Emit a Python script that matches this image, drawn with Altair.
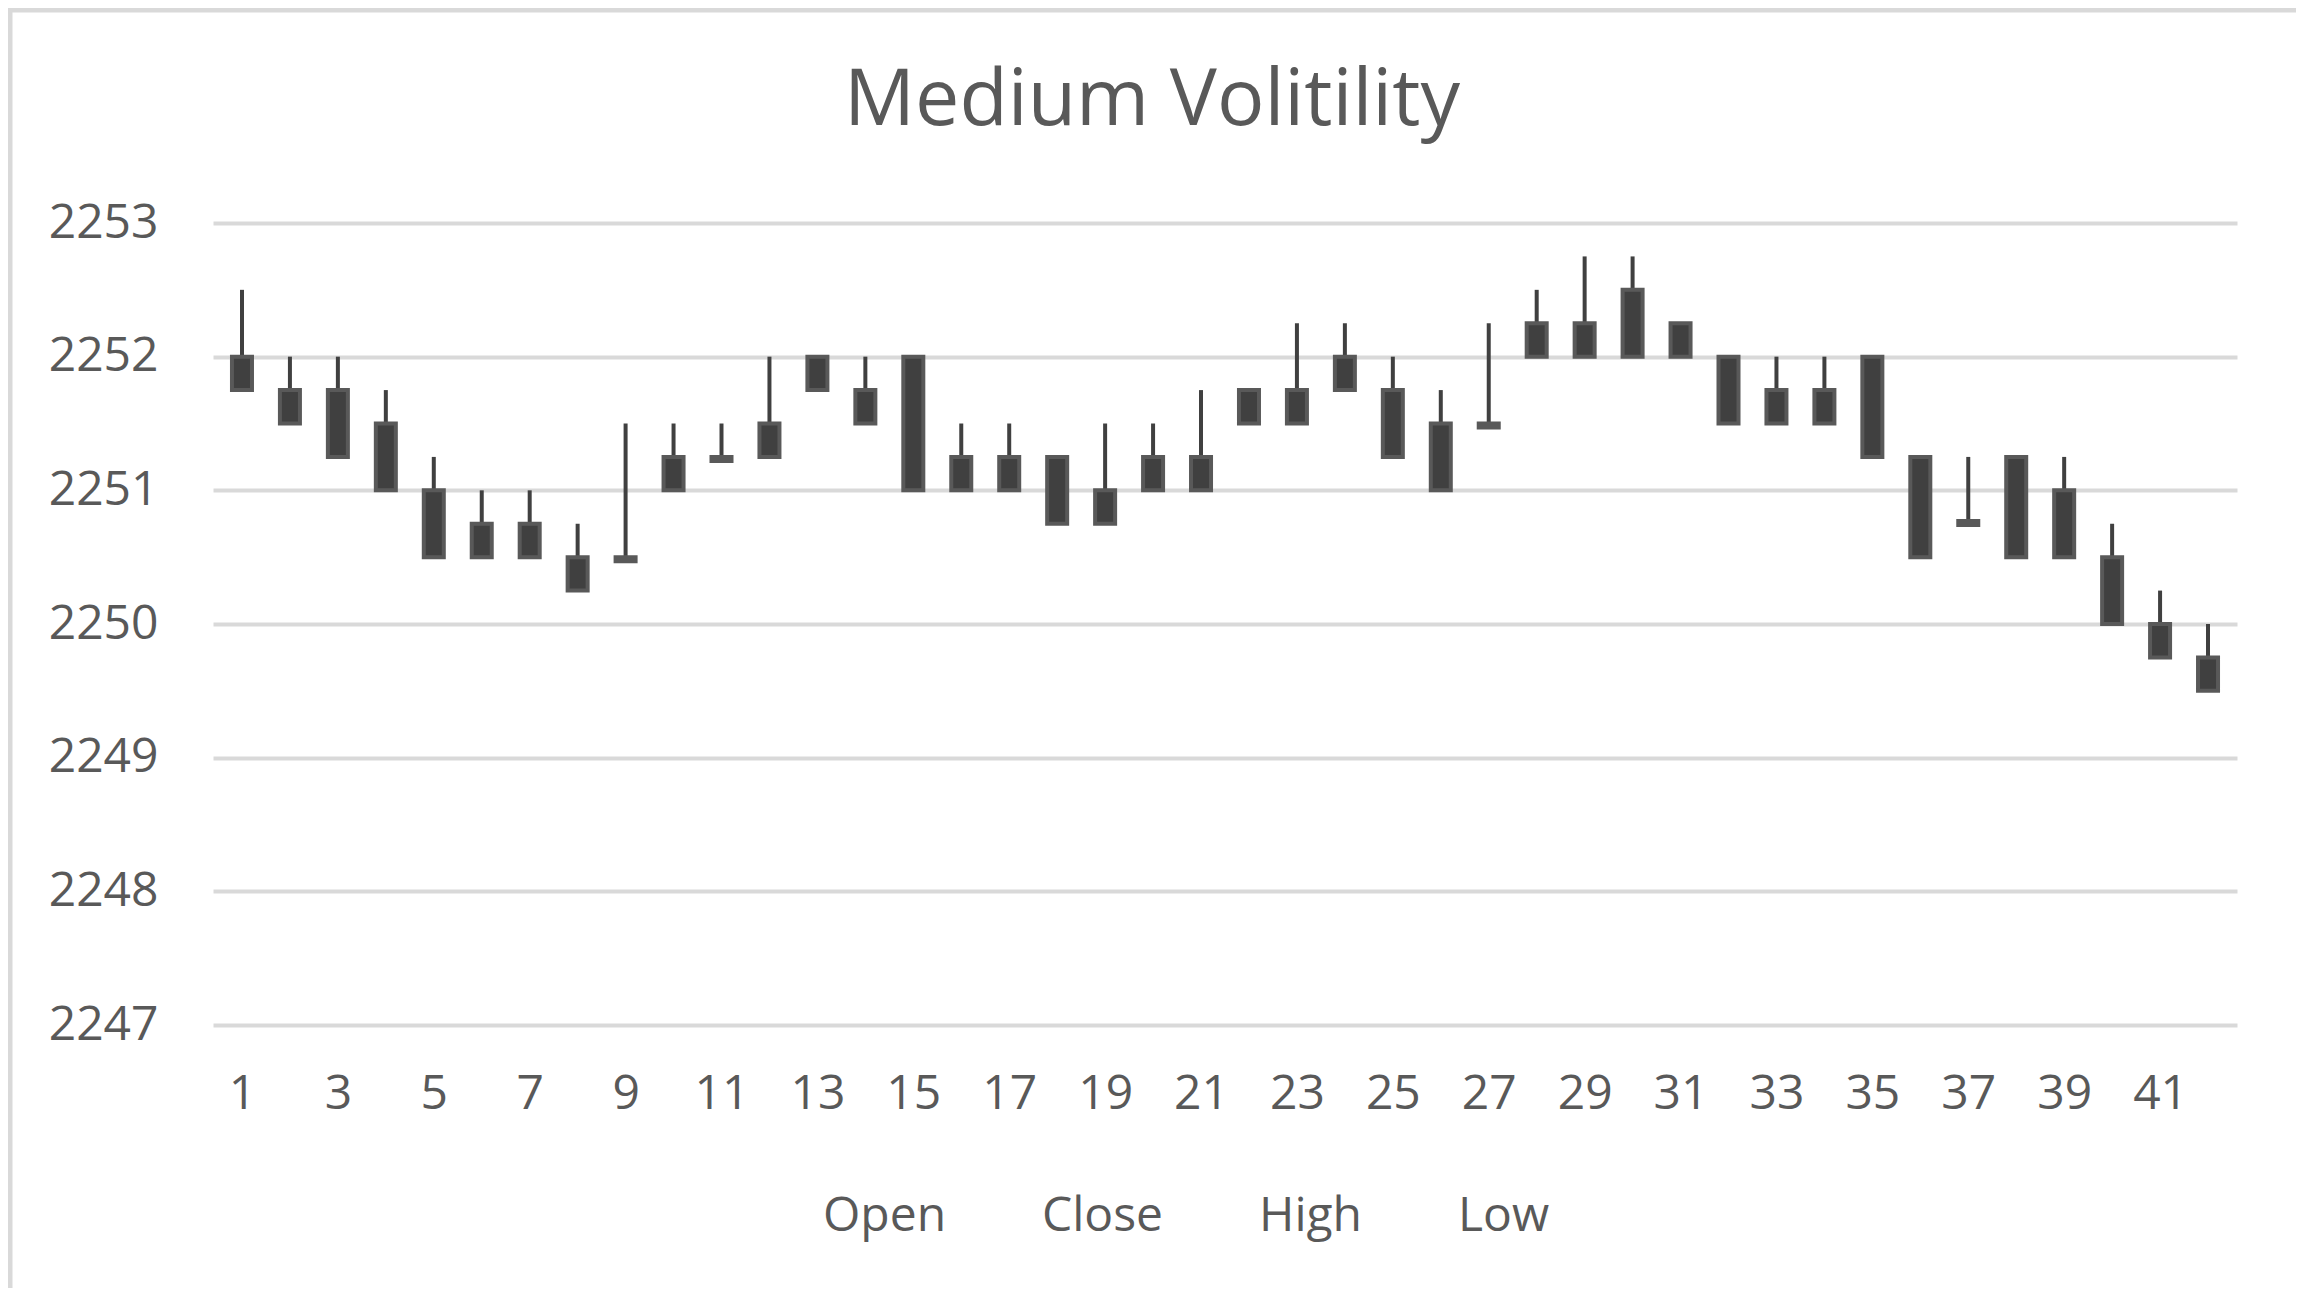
import altair as alt
import pandas as pd

# Candle index (category axis)
idx = list(range(1, 43))
# Body top / bottom, wick top
open_ = [2252.00, 2251.75, 2251.75, 2251.50, 2251.00, 2250.75, 2250.75, 2250.50, 2250.50, 2251.25,
         2251.25, 2251.50, 2252.00, 2251.75, 2252.00, 2251.25, 2251.25, 2251.25, 2251.00, 2251.25,
         2251.25, 2251.75, 2251.75, 2252.00, 2251.75, 2251.50, 2251.50, 2252.25, 2252.25, 2252.50,
         2252.25, 2252.00, 2251.75, 2251.75, 2252.00, 2251.25, 2250.77, 2251.25, 2251.00, 2250.50,
         2250.00, 2249.75]
close = [2251.75, 2251.50, 2251.25, 2251.00, 2250.50, 2250.50, 2250.50, 2250.25, 2250.47, 2251.00,
         2251.22, 2251.25, 2251.75, 2251.50, 2251.00, 2251.00, 2251.00, 2250.75, 2250.75, 2251.00,
         2251.00, 2251.50, 2251.50, 2251.75, 2251.25, 2251.00, 2251.47, 2252.00, 2252.00, 2252.00,
         2252.00, 2251.50, 2251.50, 2251.50, 2251.25, 2250.50, 2250.74, 2250.50, 2250.50, 2250.00,
         2249.75, 2249.50]
high = [2252.50, 2252.00, 2252.00, 2251.75, 2251.25, 2251.00, 2251.00, 2250.75, 2251.50, 2251.50,
        2251.50, 2252.00, 2252.00, 2252.00, 2252.00, 2251.50, 2251.50, 2251.25, 2251.50, 2251.50,
        2251.75, 2251.75, 2252.25, 2252.25, 2252.00, 2251.75, 2252.25, 2252.50, 2252.75, 2252.75,
        2252.25, 2252.00, 2252.00, 2252.00, 2252.00, 2251.25, 2251.25, 2251.25, 2251.25, 2250.75,
        2250.25, 2250.00]
low = list(close)

series_names = ["Open", "Close", "High", "Low"]
y_ticks = [2247, 2248, 2249, 2250, 2251, 2252, 2253]
x_ticks = list(range(1, 42, 2))

df = pd.DataFrame({"idx": idx, "open": open_, "close": close, "high": high, "low": low})
leg_df = pd.DataFrame({"series": series_names})

FONT = "Open Sans"
TXT = "#595959"
GRID = "#d9d9d9"

x_enc = alt.X("idx:Q",
              scale=alt.Scale(domain=[0.5, 42.5], nice=False, zero=False),
              axis=alt.Axis(values=x_ticks, title=None, grid=False, labelAngle=0,
                            labelPadding=45, tickSize=0, ticks=False, domain=False,
                            labelFlush=False, labelOverlap=False,
                            labelFont=FONT, labelFontSize=48, labelColor=TXT))
y_scale = alt.Scale(domain=[2247, 2253], nice=False, zero=False)

base = alt.Chart(df)

wicks = base.mark_rule(color="#404040", strokeWidth=4).encode(
    x=x_enc,
    y=alt.Y("low:Q", scale=y_scale,
            axis=alt.Axis(values=y_ticks, format="d", title=None, labelPadding=55,
                          tickSize=0, ticks=False, domain=False, grid=True,
                          gridColor=GRID, gridWidth=4,
                          labelFont=FONT, labelFontSize=48, labelColor=TXT)),
    y2="high:Q",
)

bodies = base.mark_bar(width=20, fill="#404040", stroke="#595959", strokeWidth=4).encode(
    x="idx:Q",
    y="open:Q",
    y2="close:Q",
)

legend_layer = alt.Chart(leg_df).mark_point(opacity=0).encode(
    x=alt.value(0),
    y=alt.value(0),
    color=alt.Color("series:N",
                    scale=alt.Scale(domain=series_names,
                                    range=["#404040", "#404040", "#404040", "#404040"]),
                    legend=alt.Legend(orient="none", legendX=562, legendY=970,
                                      direction="horizontal", title=None,
                                      symbolSize=0, symbolOpacity=0, symbolStrokeWidth=0,
                                      labelOffset=0, columnPadding=47,
                                      labelFont=FONT, labelFontSize=48, labelColor=TXT)),
)

border_df = pd.DataFrame({"b": [0]})
border_left = alt.Chart(border_df).mark_rule(color=GRID, strokeWidth=5).encode(
    x=alt.value(-203), y=alt.value(-215), y2=alt.value(1065))
border_top = alt.Chart(border_df).mark_rule(color=GRID, strokeWidth=5).encode(
    x=alt.value(-205), x2=alt.value(2083), y=alt.value(-213))

chart = alt.layer(wicks, bodies, legend_layer, border_left, border_top).properties(
    width=2024,
    height=802,
    padding={"left": 205, "top": 215, "right": 59, "bottom": 263},
    autosize=alt.AutoSizeParams(type="none"),
    background="white",
    title=alt.Title("Medium Volitility", anchor="middle", frame="group", dx=-73,
                    baseline="alphabetic", offset=-198, font=FONT, fontSize=79,
                    fontWeight="normal", color=TXT),
).configure_view(stroke=None)

chart.save("out.html", embed_options={"renderer": "svg", "actions": False})
